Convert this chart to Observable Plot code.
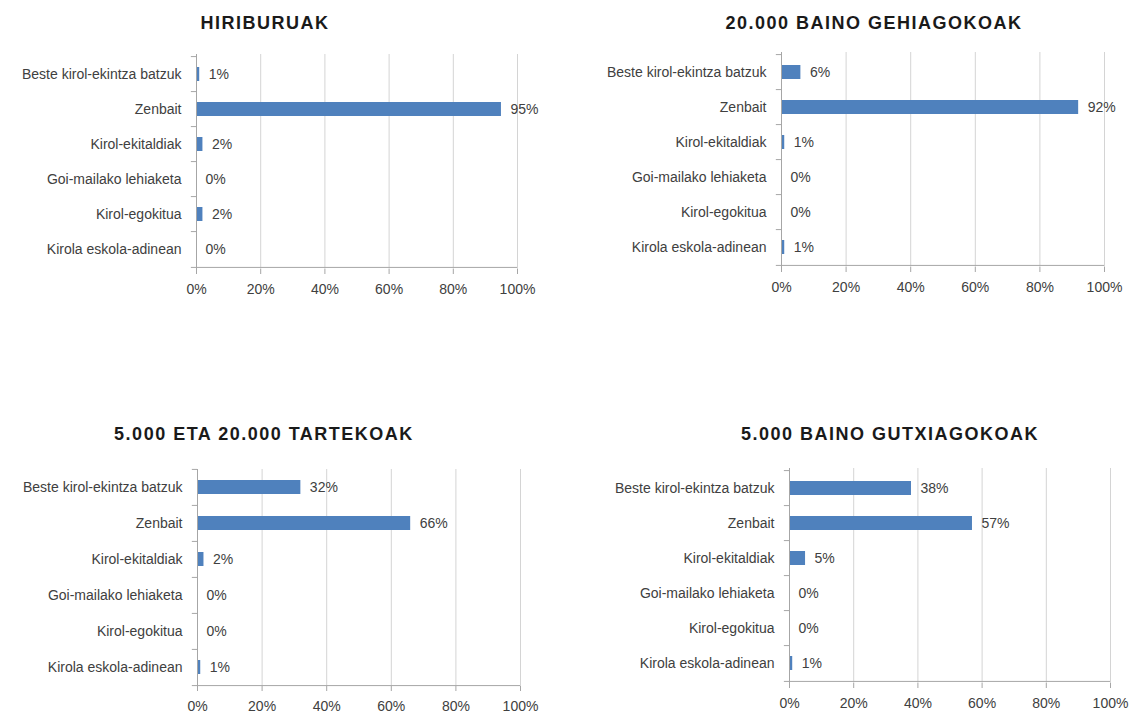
<!DOCTYPE html>
<html>
<head>
<meta charset="utf-8">
<script src="https://cdn.jsdelivr.net/npm/d3@7"></script>
<script src="https://cdn.jsdelivr.net/npm/@observablehq/plot@0.6"></script>
<style>
  html, body { margin: 0; padding: 0; background: #ffffff; }
  #root { position: relative; width: 1132px; height: 713px; overflow: hidden; background: #ffffff; }
  .title { position: absolute; width: 500px; text-align: center; font-family: "Liberation Sans", Arial, sans-serif;
           font-weight: bold; font-size: 18px; letter-spacing: 1.5px; color: #1a1a1a; line-height: 20px; }
  .panel { position: absolute; }
  .panel svg { overflow: visible; }
</style>
</head>
<body>
<div id="root"></div>
<script>
const categories = [
  "Beste kirol-ekintza batzuk",
  "Zenbait",
  "Kirol-ekitaldiak",
  "Goi-mailako lehiaketa",
  "Kirol-egokitua",
  "Kirola eskola-adinean"
];
const hiriburuak = [1, 95, 2, 0, 2, 0];
const gehiago20000 = [6, 92, 1, 0, 0, 1];
const tarteko5000_20000 = [32, 66, 2, 0, 0, 1];
const gutxiago5000 = [38, 57, 5, 0, 0, 1];
const titles = ["HIRIBURUAK", "20.000 BAINO GEHIAGOKOAK", "5.000 ETA 20.000 TARTEKOAK", "5.000 BAINO GUTXIAGOKOAK"];
const xTicks = [0, 20, 40, 60, 80, 100];

const root = document.getElementById("root");

const layouts = [
  {values: hiriburuak,        titleX: 265, titleY: 13,  left: 0,   top: 40,  width: 560, ml: 196, mr: 43, mt: 14, plotH: 215},
  {values: gehiago20000,      titleX: 874, titleY: 13,  left: 566, top: 40,  width: 566, ml: 215, mr: 28, mt: 12, plotH: 215},
  {values: tarteko5000_20000, titleX: 264, titleY: 424, left: 0,   top: 455, width: 560, ml: 197, mr: 40, mt: 14, plotH: 217},
  {values: gutxiago5000,      titleX: 890, titleY: 424, left: 566, top: 455, width: 566, ml: 223, mr: 22, mt: 13, plotH: 215}
];

layouts.forEach((L, k) => {
  const t = document.createElement("div");
  t.className = "title";
  t.style.left = (L.titleX - 250) + "px";
  t.style.top = L.titleY + "px";
  t.textContent = titles[k];
  root.appendChild(t);

  const data = categories.map((c, i) => ({c, v: L.values[i]}));
  const step = L.plotH / categories.length;
  const mb = 30;
  const chart = Plot.plot({
    width: L.width,
    height: L.plotH + L.mt + mb,
    marginLeft: L.ml,
    marginRight: L.mr,
    marginTop: L.mt,
    marginBottom: mb,
    style: {fontFamily: "'Liberation Sans', Arial, sans-serif", fontSize: "14px", color: "#404040", background: "transparent"},
    x: {domain: [0, 100], label: null},
    y: {domain: categories, padding: 0.6, paddingOuter: 0.3, label: null},
    marks: [
      Plot.gridX(xTicks, {stroke: "#d4d4d4", strokeOpacity: 1}),
      Plot.barX(data, {x: "v", y: "c", fill: "#4f81bd"}),
      Plot.text(data, {x: "v", y: "c", text: d => d.v + "%", textAnchor: "start", dx: 9, fill: "#404040", fontSize: 14}),
      Plot.ruleX([0], {stroke: "#a6a6a6"}),
      Plot.ruleY(categories, {y: d => d, x1: -1.6, x2: 0, dy: -step / 2, stroke: "#a6a6a6"}),
      Plot.ruleY(categories.slice(-1), {y: d => d, x1: -1.6, x2: 100, dy: step / 2, stroke: "#a6a6a6"}),
      Plot.axisX({ticks: xTicks, tickFormat: d => d + "%", tickSize: 5, tickPadding: 10, stroke: "#a6a6a6", fill: "#404040", fontSize: 14, label: null}),
      Plot.axisY({tickSize: 0, tickPadding: 15, fill: "#404040", fontSize: 14, label: null})
    ]
  });
  const wrap = document.createElement("div");
  wrap.className = "panel";
  wrap.style.left = L.left + "px";
  wrap.style.top = L.top + "px";
  wrap.appendChild(chart);
  root.appendChild(wrap);
});
</script>
</body>
</html>
